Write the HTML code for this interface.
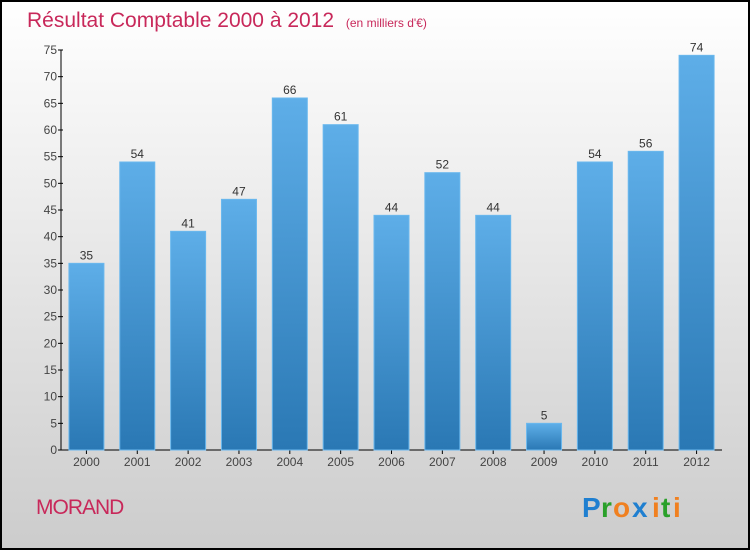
<!DOCTYPE html>
<html><head><meta charset="utf-8"><style>
html,body{margin:0;padding:0}
body{width:750px;height:550px;overflow:hidden;font-family:"Liberation Sans",sans-serif}
</style></head><body>
<svg width="750" height="550" xmlns="http://www.w3.org/2000/svg">
<defs>
<linearGradient id="bg" x1="0" y1="0" x2="0" y2="1"><stop offset="0" stop-color="#ffffff"/><stop offset="1" stop-color="#cccccc"/></linearGradient>
<linearGradient id="bar" x1="0" y1="0" x2="0" y2="1"><stop offset="0" stop-color="#5eaee8"/><stop offset="1" stop-color="#2a78b4"/></linearGradient>
</defs>
<rect x="1" y="1" width="748" height="548" fill="url(#bg)" stroke="#000" stroke-width="2"/>
<text x="27" y="27" font-size="21" fill="#c8285a">Résultat Comptable 2000 à 2012 <tspan font-size="12" dx="6">(en milliers d'€)</tspan></text>
<g id="axes"></g>
<g id="bars"></g>
<text x="36" y="514" font-size="21" fill="#c8285a" letter-spacing="-1">MORAND</text>
<g font-size="28" font-weight="bold" font-family="Liberation Sans, sans-serif">
<text x="582" y="517" fill="#1f7fd0">P</text><text x="601" y="517" fill="#2aa02a">r</text><text x="613" y="517" fill="#f08020">o</text><text x="632" y="517" fill="#1f7fd0">x</text><text x="652" y="517" fill="#f08020">i</text><text x="661" y="517" fill="#2aa02a">t</text><text x="673" y="517" fill="#f08020">i</text>
</g>
</svg>
<script>
const years=["2000","2001","2002","2003","2004","2005","2006","2007","2008","2009","2010","2011","2012"];
const values=[35,54,41,47,66,61,44,52,44,5,54,56,74];
const yTicks=[0,5,10,15,20,25,30,35,40,45,50,55,60,65,70,75];
const NS="http://www.w3.org/2000/svg";
const x0=61,x1=722,y0=450,y1=50,vmax=75;
const band=(x1-x0)/years.length;
const ys=v=>y0-(v/vmax)*(y0-y1);
const xc=i=>x0+band*(i+0.5);
function mk(t,a,p){const e=document.createElementNS(NS,t);for(const k in a)e.setAttribute(k,a[k]);p.appendChild(e);return e;}
const ax=document.getElementById('axes'),bg=document.getElementById('bars');
let yl=mk('line',{x1:x0,y1:y0,x2:x0,y2:y1,stroke:'#000','stroke-width':1},ax);


let xl=mk('line',{x1:x0,y1:y0,x2:x1,y2:y0,stroke:'#000','stroke-width':1},ax);


yTicks.forEach(v=>{
 mk('line',{x1:x0-3,y1:ys(v),x2:x0+2,y2:ys(v),stroke:'#000'},ax);
 const t=mk('text',{x:x0-4,y:ys(v)+4,'font-size':12,fill:'#444','text-anchor':'end'},ax);
 t.textContent=v;
 
 
});
years.forEach((y,i)=>{
 const w=35,v=values[i];
 const r=mk('rect',{x:xc(i)-w/2,y:ys(v),width:w,height:y0-ys(v),fill:'url(#bar)',stroke:'#6ab8ee','stroke-width':1},bg);
 
 
 const l=mk('text',{x:xc(i),y:ys(v)-4,'font-size':12,fill:'#333','text-anchor':'middle'},bg);
 l.textContent=v;
 
 
 mk('line',{x1:xc(i),y1:y0,x2:xc(i),y2:y0+4,stroke:'#000'},ax);
 const t=mk('text',{x:xc(i),y:466,'font-size':12,fill:'#444','text-anchor':'middle'},ax);
 t.textContent=y;
 
 
});
</script>
</body></html>
